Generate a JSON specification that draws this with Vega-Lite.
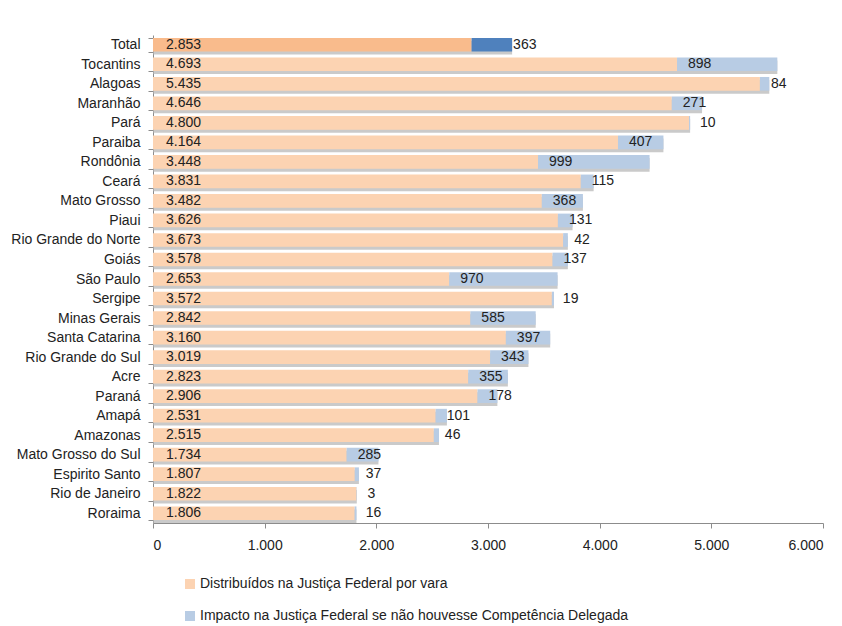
{
  "$schema": "https://vega.github.io/schema/vega-lite/v6.json",
  "autosize": {"type": "none"},
  "width": 670,
  "height": 488,
  "padding": {"left": 153, "top": 35, "right": 19, "bottom": 103},
  "background": "white",
  "config": {
    "view": {"stroke": null},
    "font": "Liberation Sans Narrow, Liberation Sans",
    "axis": {"labelFont": "Liberation Sans Narrow, Liberation Sans", "labelFontSize": 14, "labelColor": "#222", "domainColor": "#8c8c8c", "tickColor": "#8c8c8c", "grid": false, "title": null}
  },
  "data": {
    "values": [
      {"estado": "Total", "distribuidos": 2853, "impacto": 363},
      {"estado": "Tocantins", "distribuidos": 4693, "impacto": 898},
      {"estado": "Alagoas", "distribuidos": 5435, "impacto": 84},
      {"estado": "Maranhão", "distribuidos": 4646, "impacto": 271},
      {"estado": "Pará", "distribuidos": 4800, "impacto": 10},
      {"estado": "Paraiba", "distribuidos": 4164, "impacto": 407},
      {"estado": "Rondônia", "distribuidos": 3448, "impacto": 999},
      {"estado": "Ceará", "distribuidos": 3831, "impacto": 115},
      {"estado": "Mato Grosso", "distribuidos": 3482, "impacto": 368},
      {"estado": "Piaui", "distribuidos": 3626, "impacto": 131},
      {"estado": "Rio Grande do Norte", "distribuidos": 3673, "impacto": 42},
      {"estado": "Goiás", "distribuidos": 3578, "impacto": 137},
      {"estado": "São Paulo", "distribuidos": 2653, "impacto": 970},
      {"estado": "Sergipe", "distribuidos": 3572, "impacto": 19},
      {"estado": "Minas Gerais", "distribuidos": 2842, "impacto": 585},
      {"estado": "Santa Catarina", "distribuidos": 3160, "impacto": 397},
      {"estado": "Rio Grande do Sul", "distribuidos": 3019, "impacto": 343},
      {"estado": "Acre", "distribuidos": 2823, "impacto": 355},
      {"estado": "Paraná", "distribuidos": 2906, "impacto": 178},
      {"estado": "Amapá", "distribuidos": 2531, "impacto": 101},
      {"estado": "Amazonas", "distribuidos": 2515, "impacto": 46},
      {"estado": "Mato Grosso do Sul", "distribuidos": 1734, "impacto": 285},
      {"estado": "Espirito Santo", "distribuidos": 1807, "impacto": 37},
      {"estado": "Rio de Janeiro", "distribuidos": 1822, "impacto": 3},
      {"estado": "Roraima", "distribuidos": 1806, "impacto": 16}
    ]
  },
  "transform": [
    {"calculate": "datum.distribuidos + datum.impacto", "as": "fim"}
  ],
  "encoding": {
    "y": {
      "field": "estado",
      "type": "nominal",
      "sort": null,
      "scale": {"paddingInner": 0.3, "paddingOuter": 0.15},
      "axis": {"tickBand": "extent", "tickSize": 5, "labelPadding": 8, "labelFontSize": 14}
    }
  },
  "layer": [
    {
      "mark": {"type": "bar", "color": "#b3b3b3", "opacity": 0.7, "yOffset": 3},
      "encoding": {
        "x": {"field": "fim", "type": "quantitative"}
      }
    },
    {
      "transform": [
        {"fold": ["distribuidos", "impacto"], "as": ["chave", "valor"]},
        {"calculate": "(datum.chave == 'distribuidos' ? 'Distribuídos na Justiça Federal por vara' : 'Impacto na Justiça Federal se não houvesse Competência Delegada') + (datum.estado == 'Total' ? ' ' : '')", "as": "serie"}
      ],
      "mark": {"type": "bar"},
      "encoding": {
        "x": {
          "field": "valor",
          "type": "quantitative",
          "stack": "zero",
          "scale": {"domain": [0, 6000]},
          "axis": {
            "values": [0, 1000, 2000, 3000, 4000, 5000, 6000],
            "labelExpr": "replace(format(datum.value, ','), ',', '.')",
            "tickSize": 5,
            "labelPadding": 10,
            "labelFontSize": 14
          }
        },
        "order": {"field": "chave"},
        "color": {
          "field": "serie",
          "type": "nominal",
          "scale": {
            "domain": [
              "Distribuídos na Justiça Federal por vara",
              "Impacto na Justiça Federal se não houvesse Competência Delegada",
              "Distribuídos na Justiça Federal por vara ",
              "Impacto na Justiça Federal se não houvesse Competência Delegada "
            ],
            "range": ["#fcd3b2", "#b8cce4", "#f9bb8c", "#4f81bd"]
          },
          "legend": {
            "values": [
              "Distribuídos na Justiça Federal por vara",
              "Impacto na Justiça Federal se não houvesse Competência Delegada"
            ],
            "orient": "none",
            "legendX": 30,
            "legendY": 542,
            "direction": "vertical",
            "title": null,
            "symbolType": "square",
            "symbolSize": 100,
            "symbolStrokeWidth": 0,
            "labelFont": "Liberation Sans Narrow, Liberation Sans",
            "labelFontSize": 14,
            "labelColor": "#222",
            "labelLimit": 0,
            "rowPadding": 18,
            "labelOffset": 3
          }
        }
      }
    },
    {
      "transform": [
        {"calculate": "replace(format(datum.distribuidos, ','), ',', '.')", "as": "rotulo"}
      ],
      "mark": {"type": "text", "align": "left", "baseline": "middle", "dx": 13, "fontSize": 14, "color": "#222", "font": "Liberation Sans Narrow, Liberation Sans"},
      "encoding": {
        "x": {"datum": 0, "type": "quantitative"},
        "text": {"field": "rotulo", "type": "nominal"}
      }
    },
    {
      "transform": [{"filter": "datum.estado != 'Total'"}],
      "mark": {"type": "text", "align": "left", "baseline": "middle", "dx": 11, "fontSize": 14, "color": "#222", "font": "Liberation Sans Narrow, Liberation Sans"},
      "encoding": {
        "x": {"field": "distribuidos", "type": "quantitative"},
        "text": {"field": "impacto", "type": "quantitative"}
      }
    },
    {
      "transform": [{"filter": "datum.estado == 'Total'"}],
      "mark": {"type": "text", "align": "left", "baseline": "middle", "dx": 1, "fontSize": 14, "color": "#222", "font": "Liberation Sans Narrow, Liberation Sans"},
      "encoding": {
        "x": {"field": "fim", "type": "quantitative"},
        "text": {"field": "impacto", "type": "quantitative"}
      }
    }
  ]
}
